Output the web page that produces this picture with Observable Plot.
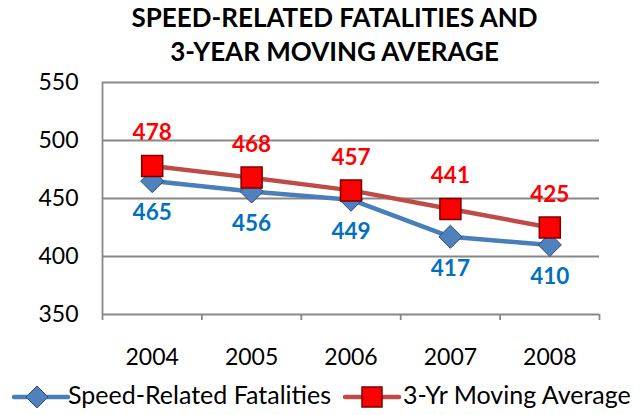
<!DOCTYPE html>
<html>
<head>
<meta charset="utf-8">
<script src="https://cdn.jsdelivr.net/npm/d3@7"></script>
<script src="https://cdn.jsdelivr.net/npm/@observablehq/plot@0.6"></script>
<style>
  html, body { margin: 0; padding: 0; background: #fff; }
  body { width: 643px; height: 415px; overflow: hidden; font-family: Lato, "Open Sans", sans-serif; }
  #title { height: 62px; box-sizing: border-box; padding-left: 26px; text-align: center; font-weight: bold; font-size: 26px; line-height: 34px; color: #000; overflow: visible; white-space: nowrap; }
  #chart svg { display: block; overflow: visible; }
  #legend { position: relative; height: 41px; font-size: 25px; color: #000; white-space: nowrap; }
  #legend svg { position: absolute; top: 10px; }
  #legend span { position: absolute; top: 5px; line-height: 30px; }
</style>
</head>
<body>
<div id="title">SPEED-RELATED FATALITIES AND<br>3-YEAR MOVING AVERAGE</div>
<div id="chart"></div>
<div id="legend"></div>
<script>
const years = [2004, 2005, 2006, 2007, 2008];
const fatalities = [465, 456, 449, 417, 410];
const movingAvg = [478, 468, 457, 441, 425];
const yTicks = [350, 400, 450, 500, 550];
const seriesNames = ["Speed-Related Fatalities", "3-Yr Moving Average"];

const blue = "#4a7ebb", red = "#be4b48";
const fatalData = years.map((year, i) => ({year, value: fatalities[i]}));
const avgData = years.map((year, i) => ({year, value: movingAvg[i]}));
const bounds = [years[0] - 0.5, ...years.map(y => y + 0.5)];

const plot = Plot.plot({
  width: 643,
  height: 312,
  marginLeft: 102,
  marginRight: 44,
  marginTop: 20,
  marginBottom: 60,
  style: {fontFamily: "Lato, 'Open Sans', sans-serif", background: "#fff", overflow: "visible"},
  x: {type: "linear", domain: [bounds[0], bounds[bounds.length - 1]], label: null},
  y: {domain: [350, 550], label: null},
  marks: [
    Plot.gridY(yTicks, {stroke: "#878787", strokeOpacity: 1, strokeWidth: 1.8}),
    Plot.ruleX([bounds[0]], {y1: 350, y2: 550, stroke: "#878787", strokeWidth: 1.8}),
    Plot.axisX(bounds, {tickSize: 6, tickFormat: () => "", stroke: "#878787", strokeWidth: 1.8, label: null}),
    Plot.axisX(years, {tickSize: 0, tickPadding: 34, tickFormat: d => String(d), fontSize: 23, fill: "#000", label: null}),
    Plot.axisY(yTicks, {tickSize: 0, tickPadding: 24, fontSize: 23, fill: "#000", label: null}),
    Plot.line(fatalData, {x: "year", y: "value", stroke: blue, strokeWidth: 4.5}),
    Plot.dot(fatalData, {x: "year", y: "value", symbol: "diamond2", r: 10.4, fill: "#4f81bd", stroke: "#2c4d75", strokeWidth: 1}),
    Plot.line(avgData, {x: "year", y: "value", stroke: red, strokeWidth: 4.5}),
    Plot.dot(avgData, {x: "year", y: "value", symbol: "square", r: 11.85, fill: "#ff0000", stroke: "#7a0000", strokeWidth: 1.5}),
    Plot.text(avgData, {x: "year", y: "value", text: d => String(d.value), dy: -33, fill: "#ff0000", fontWeight: "bold", fontSize: 22.5}),
    Plot.text(fatalData, {x: "year", y: "value", text: d => String(d.value), dy: 32, fill: "#0070c0", fontWeight: "bold", fontSize: 22.5})
  ]
});
document.getElementById("chart").appendChild(plot);

// legend
const legend = document.getElementById("legend");
function icon(kind) {
  const ns = "http://www.w3.org/2000/svg";
  const s = document.createElementNS(ns, "svg");
  s.setAttribute("width", 60); s.setAttribute("height", 26);
  const l = document.createElementNS(ns, "line");
  l.setAttribute("x1", 2); l.setAttribute("x2", 56); l.setAttribute("y1", 13); l.setAttribute("y2", 13);
  l.setAttribute("stroke", kind === 0 ? blue : red); l.setAttribute("stroke-width", 4.5);
  l.setAttribute("stroke-linecap", "round");
  s.appendChild(l);
  const p = document.createElementNS(ns, "path");
  if (kind === 0) {
    p.setAttribute("d", "M25,2 L36,13 L25,24 L14,13 Z");
    p.setAttribute("fill", "#4f81bd"); p.setAttribute("stroke", "#2c4d75");
  } else {
    p.setAttribute("d", "M19,3 L39,3 L39,23 L19,23 Z");
    p.setAttribute("fill", "#ff0000"); p.setAttribute("stroke", "#7a0000"); p.setAttribute("stroke-width", 1.5);
  }
  s.appendChild(p);
  return s;
}
const iconLeft = [12, 343], textLeft = [68, 403];
seriesNames.forEach((name, i) => {
  const ic = icon(i);
  ic.style.left = iconLeft[i] + "px";
  legend.appendChild(ic);
  const t = document.createElement("span");
  t.textContent = name;
  t.style.left = textLeft[i] + "px";
  legend.appendChild(t);
});
</script>
</body>
</html>
